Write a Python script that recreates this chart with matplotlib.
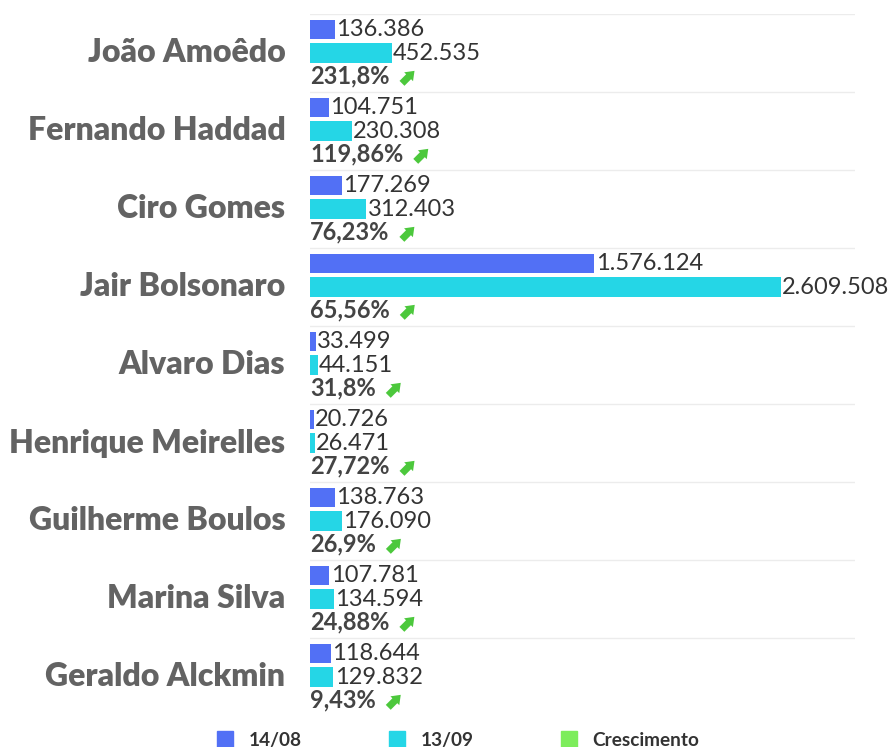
import numpy as np
import matplotlib.pyplot as plt
from matplotlib.patches import Patch
from matplotlib.text import OffsetFrom

nomes = ['João Amoêdo', 'Fernando Haddad', 'Ciro Gomes', 'Jair Bolsonaro',
         'Alvaro Dias', 'Henrique Meirelles', 'Guilherme Boulos',
         'Marina Silva', 'Geraldo Alckmin']
agosto = [136386, 104751, 177269, 1576124, 33499, 20726, 138763, 107781, 118644]
setembro = [452535, 230308, 312403, 2609508, 44151, 26471, 176090, 134594, 129832]
crescimento = ['231,8%', '119,86%', '76,23%', '65,56%', '31,8%', '27,72%',
               '26,9%', '24,88%', '9,43%']

azul = '#5270f5'
ciano = '#25d6e6'
verde = '#7ded5c'
seta = '#4cc83c'

plt.rcParams['font.family'] = ['Lato', 'DejaVu Sans']

fig = plt.figure(figsize=(8.9, 7.47), dpi=100)
ax = fig.add_axes([310 / 890, 1 - 716 / 747, 545 / 890, 702 / 747])

y = np.arange(len(nomes))
ax.barh(y + 0.2, agosto, height=0.245, color=azul)
ax.barh(y + 0.5, setembro, height=0.245, color=ciano)

ax.set_xlim(0, 2609508 * 545 / 471)
ax.set_ylim(len(nomes), 0)
ax.axis('off')

fmt = lambda v: f'{v:,}'.replace(',', '.')
for i in range(len(nomes)):
    ax.axhline(i, color='#ececec', lw=1, zorder=0)
    ax.text(agosto[i] + 6000, i + 0.2, fmt(agosto[i]), va='center', ha='left',
            fontsize=17, color='#333333')
    ax.text(setembro[i] + 6000, i + 0.5, fmt(setembro[i]), va='center', ha='left',
            fontsize=17, color='#333333')
    t = ax.text(0, i + 0.8, crescimento[i], va='center', ha='left',
                fontsize=17, fontweight='bold', color='#444444')
    # seta verde de crescimento (de baixo-esquerda para cima-direita)
    ref = OffsetFrom(t, (1, 0.5), unit='points')
    ax.annotate('', xy=(18, 4), xycoords=ref, xytext=(9, -5), textcoords=ref,
                arrowprops=dict(arrowstyle='simple,head_length=0.6,head_width=0.9,tail_width=0.5',
                                color=seta, lw=0, shrinkA=0, shrinkB=0))
    ax.text(-0.045, 1 - (i + 0.5) / len(nomes), nomes[i], transform=ax.transAxes,
            va='center', ha='right', fontsize=23, fontweight='heavy', color='#636363')

handles = [Patch(color=azul), Patch(color=ciano), Patch(color=verde)]
fig.legend(handles, ['14/08', '13/09', 'Crescimento'], loc='center',
           bbox_to_anchor=(458 / 890, 1 - 740 / 747), ncol=3, frameon=False,
           prop={'weight': 'bold', 'size': 13.7}, handlelength=0.85,
           handleheight=0.85, handletextpad=0.8, columnspacing=4.6,
           labelcolor='#333333')

plt.savefig('out.png')
